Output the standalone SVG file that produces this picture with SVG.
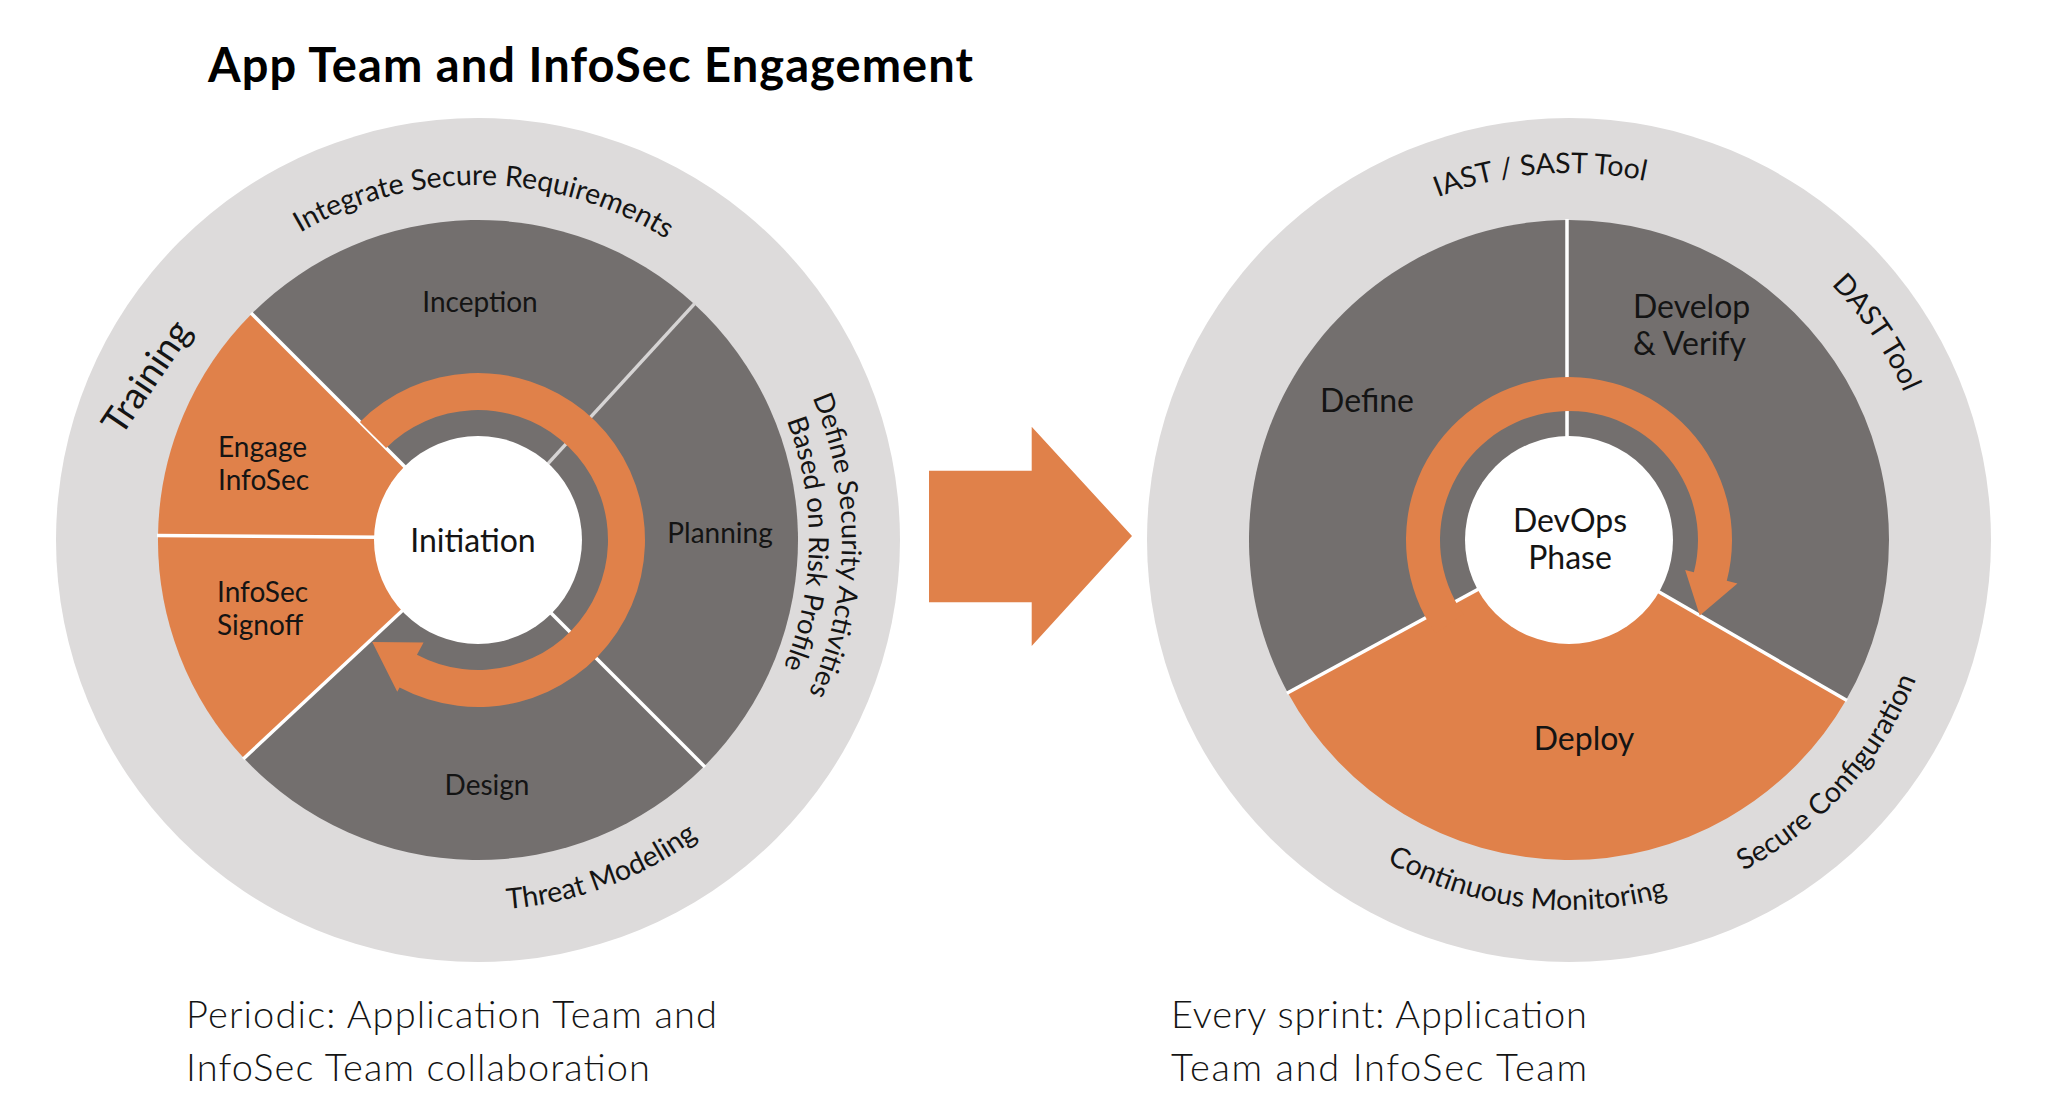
<svg xmlns="http://www.w3.org/2000/svg" width="2060" height="1116" viewBox="0 0 2060 1116">
<style>
text { font-family: Lato, "Open Sans", "Liberation Sans", sans-serif; fill: #141414; }
.title { font-size: 47px; font-weight: 700; fill: #000; }
.lbl { font-size: 28px; }
.big { font-size: 32px; }
.arc { font-size: 28.5px; }
.arcs { font-size: 27.5px; }
.train { font-size: 37px; }
.note { font-size: 38px; font-weight: 300; }
.bg { fill: #dddbdb; }
.dk { fill: #736f6e; }
.or { fill: #e0814a; }
.ctr { fill: #ffffff; }
.sep { stroke: #ffffff; stroke-width: 3.5; stroke-linecap: butt; }
.sep2 { stroke: #d6d4d4; stroke-width: 3.5; }
.mid { text-anchor: middle; }
</style>
<defs>
<path id="pIntegrate" d="M146.58 412.78 A355 355 0 0 1 813.66 424.42"/>
<path id="pDefine1" d="M663.76 228.4 A364 364 0 0 1 656.02 858.77"/>
<path id="pDefine2" d="M647.02 255.41 A331 331 0 0 1 639.98 828.66"/>
<path id="pThreat" d="M242.65 825.5 A370 370 0 0 0 842.93 601.07"/>
<path id="pIast" d="M1237.75 382 A367 367 0 0 1 1871.46 332.13"/>
<path id="pDast" d="M1543.47 174.89 A366 366 0 0 1 1897.96 700.44"/>
<path id="pSecure" d="M1491.24 905.83 A374 374 0 0 0 1924.7 424.43"/>
<path id="pCont" d="M1228.41 684.57 A370 370 0 0 0 1864.5 762.67"/>
</defs>

<text class="title" x="208" y="82" textLength="765">App Team and InfoSec Engagement</text>

<!-- Left wheel -->
<g id="left-wheel">
  <circle class="bg" cx="478" cy="540" r="422"/>
  <g id="inception">
    <path class="dk" d="M478 540 L251.73 313.73 A320 320 0 0 1 694.19 304.07 Z"/>
    <text class="lbl mid" x="480" y="312">Inception</text>
  </g>
  <g id="planning">
    <path class="dk" d="M478 540 L694.19 304.07 A320 320 0 0 1 704.27 766.27 Z"/>
    <text class="lbl mid" x="720" y="543">Planning</text>
  </g>
  <g id="design">
    <path class="dk" d="M478 540 L704.27 766.27 A320 320 0 0 1 243.97 758.24 Z"/>
    <text class="lbl mid" x="487" y="795">Design</text>
  </g>
  <g id="infosec-signoff">
    <path class="or" d="M478 540 L243.97 758.24 A320 320 0 0 1 158 536.1 Z"/>
    <text class="lbl" x="217" y="602">InfoSec</text>
    <text class="lbl" x="217" y="635">Signoff</text>
  </g>
  <g id="engage-infosec">
    <path class="or" d="M478 540 L158 536.1 A320 320 0 0 1 251.73 313.73 Z"/>
    <text class="lbl" x="218" y="457">Engage</text>
    <text class="lbl" x="218" y="490">InfoSec</text>
  </g>
  <g id="left-separators">
    <line class="sep" x1="478" y1="540" x2="251.02" y2="313.02"/>
    <line class="sep" x1="478" y1="538" x2="157" y2="535.5"/>
    <line class="sep" x1="478" y1="540" x2="243.24" y2="758.92"/>
    <line class="sep" x1="478" y1="540" x2="704.98" y2="766.98"/>
    <line class="sep2" x1="478" y1="540" x2="694.86" y2="303.33"/>
  </g>
  <g id="initiation">
    <circle class="ctr" cx="478" cy="540" r="104"/>
    <text class="big mid" x="473" y="552">Initiation</text>
  </g>
  <g id="left-ring-labels">
    <text class="arc"><textPath href="#pIntegrate" startOffset="50%" text-anchor="middle">Integrate Secure Requirements</textPath></text>
    <text class="arcs"><textPath href="#pDefine1" startOffset="50%" text-anchor="middle">Define Security Activities</textPath></text>
    <text class="arcs"><textPath href="#pDefine2" startOffset="50%" text-anchor="middle">Based on Risk Profile</textPath></text>
    <text class="arc"><textPath href="#pThreat" startOffset="50%" text-anchor="middle">Threat Modeling</textPath></text>
    <text class="train mid" transform="translate(157 384) rotate(-56)">Training</text>
  </g>
</g>

<!-- Right wheel -->
<g id="right-wheel">
  <circle class="bg" cx="1569" cy="540" r="422"/>
  <g id="define">
    <path class="dk" d="M1569 540 L1287.78 692.69 A320 320 0 0 1 1567.5 220 Z"/>
    <text class="big mid" x="1367" y="412">Define</text>
  </g>
  <g id="develop-verify">
    <path class="dk" d="M1569 540 L1567.5 220 A320 320 0 0 1 1846.13 700 Z"/>
    <text class="big" x="1633" y="318">Develop</text>
    <text class="big" x="1633" y="355">&amp; Verify</text>
  </g>
  <g id="deploy">
    <path class="or" d="M1569 540 L1846.13 700 A320 320 0 0 1 1287.78 692.69 Z"/>
    <text class="big mid" x="1584" y="750">Deploy</text>
  </g>
  <g id="right-separators">
    <line class="sep" x1="1567" y1="540" x2="1567" y2="219"/>
    <line class="sep" x1="1569" y1="540" x2="1847" y2="700.5"/>
    <line class="sep" x1="1569" y1="540" x2="1286.9" y2="693.2"/>
  </g>
  <g id="devops-phase">
    <circle class="ctr" cx="1569" cy="540" r="104"/>
    <text class="big mid" x="1570" y="532">DevOps</text>
    <text class="big mid" x="1570" y="569">Phase</text>
  </g>
  <g id="right-ring-labels">
    <text class="arc"><textPath href="#pIast" startOffset="50%" text-anchor="middle">IAST / SAST Tool</textPath></text>
    <text class="arc"><textPath href="#pDast" startOffset="50%" text-anchor="middle">DAST Tool</textPath></text>
    <text class="arc"><textPath href="#pSecure" startOffset="50%" text-anchor="middle">Secure Configuration</textPath></text>
    <text class="arc"><textPath href="#pCont" startOffset="50%" text-anchor="middle">Continuous Monitoring</textPath></text>
  </g>
</g>

<!-- Connectors -->
<g id="connectors">
  <path id="left-cycle" class="or" d="M359.91 421.91 A167 167 0 1 1 399.6 687.45 L397.25 691.87 L372.26 642.12 L423.54 642.42 L416.97 654.78 A130 130 0 1 0 386.08 448.08 Z"/>
  <path id="right-cycle" class="or" d="M1435.48 633.49 A163 163 0 1 1 1726.81 580.81 L1737.46 583.57 L1699.77 615.5 L1685.18 570.05 L1693.89 572.3 A129 129 0 1 0 1463.33 613.99 Z"/>
  <path id="transition-arrow" class="or" d="M929 470.7 L1031.7 470.7 L1031.7 426.7 L1132 536 L1031.7 646 L1031.7 602.3 L929 602.3 Z"/>
</g>

<g id="captions">
  <text class="note" x="186" y="1028" textLength="531">Periodic: Application Team and</text>
  <text class="note" x="186" y="1081" textLength="464">InfoSec Team collaboration</text>
  <text class="note" x="1171" y="1028" textLength="416">Every sprint: Application</text>
  <text class="note" x="1171" y="1081" textLength="416">Team and InfoSec Team</text>
</g>
</svg>
